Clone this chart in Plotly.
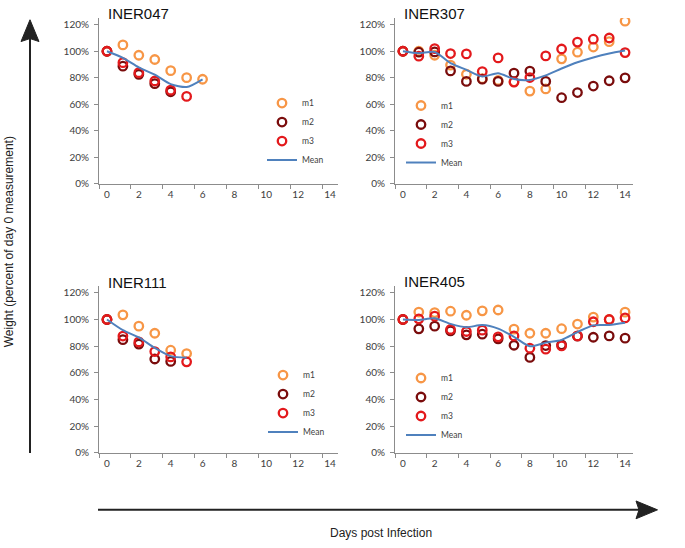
import plotly.graph_objects as go

# ---------------- data (percent of day 0 weight) ----------------
days_047 = [0, 1, 2, 3, 4, 5, 6]
m1_047 = [100, 104.8, 97, 93.8, 85.4, 80.1, 78.9]
m2_047 = [100, 88.8, 82.6, 75.6, 69.5, None, None]
m3_047 = [100, 91.4, 83.9, 77.6, 70.7, 66, None]

days_307 = list(range(15))
m1_307 = [100, 100, 97, 89.6, 82.7, 79.3, 78, 77, 70, 71.6, 94.3, 99.3, 103.2, 107.2, 122.7]
m2_307 = [100, 99.3, 99.5, 85.2, 77.3, 79, 77.3, 83.5, 85, 77.3, 65, 68.9, 73.8, 77.8, 80]
m3_307 = [100, 96.3, 102, 98.3, 98, 84.7, 95, 76.8, 80.2, 96.5, 101.7, 106.9, 109.1, 110, 99]

days_111 = [0, 1, 2, 3, 4, 5]
m1_111 = [100, 103.5, 95, 89.7, 77, 74.5]
m2_111 = [100, 84.9, 81.6, 70.4, 68.6, None]
m3_111 = [100, 87.6, 83.2, 76, 72, 68.3]

days_405 = list(range(15))
m1_405 = [100, 105.6, 105.2, 106.2, 103.2, 106.5, 107.1, 92.8, 89.7, 89.7, 93.1, 96.6, 101.8, 100, 105.5]
m2_405 = [100, 93, 95, 91.5, 88.5, 89, 85.5, 80.7, 71.6, 80.5, 81, 87.5, 86.7, 87.7, 86]
m3_405 = [100, 100.5, 102.5, 92.5, 91, 92, 87, 87.7, 78.5, 77.8, 80.2, 87.7, 98.3, 100, 101.2]

panel_names = ["INER047", "INER307", "INER111", "INER405"]
series_names = ["m1", "m2", "m3", "Mean"]
x_ticks = [0, 2, 4, 6, 8, 10, 12, 14]
y_ticks = [0, 20, 40, 60, 80, 100, 120]
y_tick_labels = ["0%", "20%", "40%", "60%", "80%", "100%", "120%"]
y_title = "Weight (percent of day 0 measurement)"
x_title = "Days post Infection"

panel_data = [
    (days_047, m1_047, m2_047, m3_047),
    (days_307, m1_307, m2_307, m3_307),
    (days_111, m1_111, m2_111, m3_111),
    (days_405, m1_405, m2_405, m3_405),
]

# ---------------- styling / geometry ----------------
W, H = 685, 548
def PX(p):
    return p / W
def PY(p):
    return 1 - p / H

colors = {"m1": "#F79646", "m2": "#7A0C0C", "m3": "#E3191C", "Mean": "#4F81BD"}
# pixel boxes (x0, x1, ytop, ybottom) for each panel
boxes = [
    (99, 338, 18.3, 186),
    (395, 633, 18.3, 186),
    (99, 338, 289.3, 458),
    (395, 633, 289.3, 458),
]
title_pos = [(106, 14), (402, 14), (106, 286), (402, 285)]
legend_pos = [(262, 133), (401, 135.5), (263, 408), (401, 411)]

tick_font = dict(family="Lato, Open Sans, sans-serif", size=10, color="#404040")

fig = go.Figure()

def mean_of(*rows):
    out = []
    for vals in zip(*rows):
        v = [a for a in vals if a is not None]
        out.append(sum(v) / len(v) if v else None)
    return out

for i, (days, m1, m2, m3) in enumerate(panel_data):
    k = "" if i == 0 else str(i + 1)
    xa, ya, lg = "x" + k, "y" + k, "legend" + k
    for name, vals in (("m1", m1), ("m2", m2), ("m3", m3)):
        fig.add_trace(go.Scatter(
            x=days, y=vals, mode="markers", name=name, xaxis=xa, yaxis=ya, legend=lg,
            marker=dict(symbol="circle-open", size=8.5, color=colors[name],
                        line=dict(width=2.3, color=colors[name])),
        ))
    fig.add_trace(go.Scatter(
        x=days, y=mean_of(m1, m2, m3), mode="lines", name="Mean", xaxis=xa, yaxis=ya, legend=lg,
        line=dict(color=colors["Mean"], width=2, shape="spline", smoothing=0.7),
        connectgaps=False,
    ))

    x0, x1, yt, yb = boxes[i]
    axis_common = dict(showgrid=False, zeroline=False, showline=True,
                       linecolor="#8C8C8C", linewidth=1, tickfont=tick_font)
    fig.layout["xaxis" + k] = dict(
        axis_common, domain=[PX(x0), PX(x1)], range=[-0.5, 14.5], anchor=ya,
        tickmode="array", tickvals=x_ticks, ticks="", ticklabelstandoff=1,
        minor=dict(tickmode="array", tickvals=[-0.5, 1.5, 3.5, 5.5, 7.5, 9.5, 11.5, 13.5],
                   ticks="outside", ticklen=4, tickcolor="#8C8C8C", showgrid=False),
    )
    fig.layout["yaxis" + k] = dict(
        axis_common, domain=[PY(yb), PY(yt)], range=[0, 125], anchor=xa,
        tickmode="array", tickvals=y_ticks, ticktext=y_tick_labels, ticks="outside",
        ticklen=4, tickcolor="#8C8C8C", ticklabelstandoff=3,
    )
    lx, ly = legend_pos[i]
    fig.layout[lg] = dict(
        x=PX(lx), y=PY(ly), xanchor="left", yanchor="middle",
        font=dict(family="Lato, Open Sans, sans-serif", size=8.5, color="#404040"),
        bgcolor="rgba(0,0,0,0)", borderwidth=0, tracegroupgap=0, itemwidth=30,
    )
    tx, ty = title_pos[i]
    fig.add_annotation(text=panel_names[i], x=PX(tx), y=PY(ty), xref="paper", yref="paper",
                       xanchor="left", yanchor="middle", showarrow=False,
                       font=dict(family="Liberation Sans, Arial, sans-serif", size=15, color="#111"))

# axis titles
fig.add_annotation(text=y_title, x=PX(9), y=PY(245), xref="paper", yref="paper",
                   textangle=-90, showarrow=False, xanchor="center", yanchor="middle",
                   font=dict(family="Liberation Sans, Arial, sans-serif", size=12, color="#222"))
fig.add_annotation(text=x_title, x=PX(381), y=PY(539), xref="paper", yref="paper",
                   showarrow=False, xanchor="center", yanchor="middle",
                   font=dict(family="Liberation Sans, Arial, sans-serif", size=12, color="#222"))

# big arrows
arrow_col = "#222222"
fig.add_shape(type="line", xref="paper", yref="paper",
              x0=PX(30), x1=PX(30), y0=PY(458), y1=PY(38),
              line=dict(color=arrow_col, width=2))
fig.add_shape(type="path", xref="paper", yref="paper",
              path=f"M {PX(30)},{PY(20)} L {PX(21)},{PY(42)} L {PX(30)},{PY(39)} L {PX(39)},{PY(42)} Z",
              fillcolor=arrow_col, line=dict(color=arrow_col, width=1))
fig.add_shape(type="line", xref="paper", yref="paper",
              x0=PX(98), x1=PX(640), y0=PY(515.5), y1=PY(515.5),
              line=dict(color=arrow_col, width=2))
fig.add_shape(type="path", xref="paper", yref="paper",
              path=f"M {PX(657.5)},{PY(515.5)} L {PX(636)},{PY(506.5)} L {PX(639)},{PY(515.5)} L {PX(636)},{PY(524.5)} Z",
              fillcolor=arrow_col, line=dict(color=arrow_col, width=1))

fig.update_layout(
    width=W, height=H, margin=dict(l=0, r=0, t=0, b=0),
    paper_bgcolor="white", plot_bgcolor="white",
    font=dict(family="Lato, Open Sans, sans-serif", color="#404040"),
    showlegend=True,
)

fig.write_html("out.html", config={"displayModeBar": False},
               post_script="document.body.style.margin='0';document.body.style.overflow='hidden';")
